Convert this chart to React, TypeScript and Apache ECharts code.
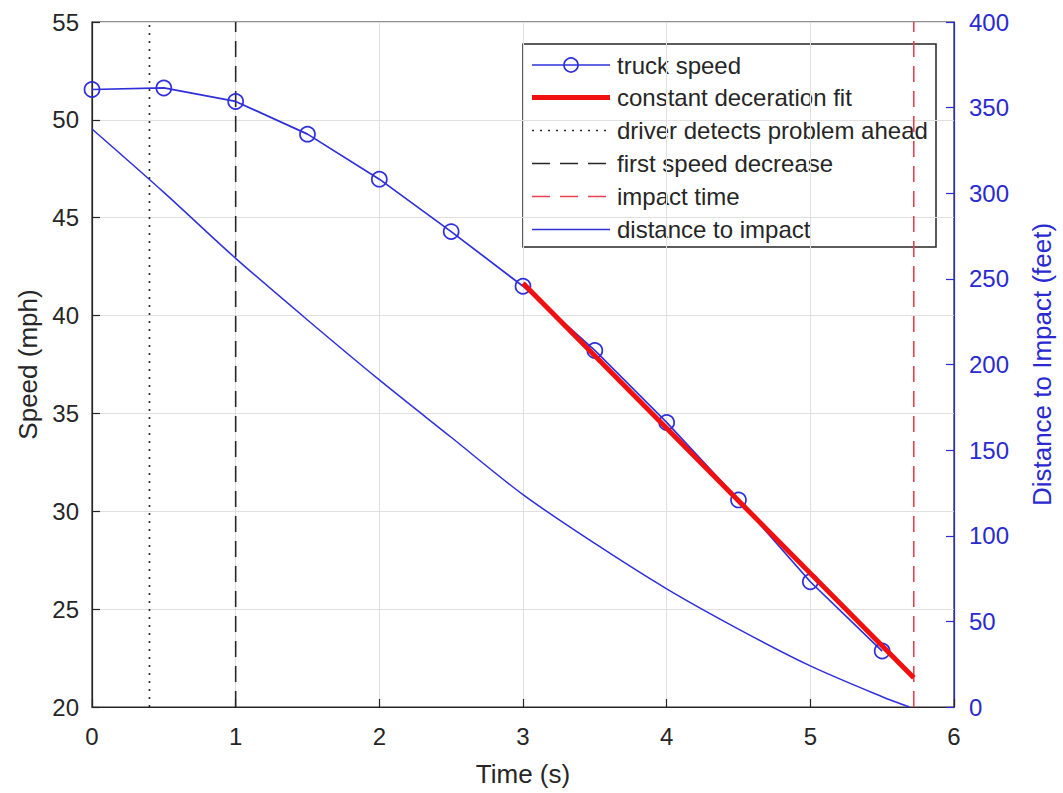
import React, { useEffect, useRef } from "react";
import * as echarts from "echarts";

// ---- data ----
const speedTimes = [0, 0.5, 1, 1.5, 2, 2.5, 3, 3.5, 4, 4.5, 5, 5.5];
const truckSpeed = [51.55, 51.63, 50.94, 49.27, 46.97, 44.29, 41.5, 38.22, 34.54, 30.58, 26.4, 22.86];
const fitTimes = [3, 5.72];
const fitSpeed = [41.65, 21.5];
const detectTime = 0.4;
const firstDecreaseTime = 1;
const impactTime = 5.72;
const distTimes = [0, 0.5, 1, 1.5, 2, 2.5, 3, 3.5, 4, 4.5, 5, 5.5, 5.69];
const distance = [337.5, 300.5, 262, 226, 191, 157.5, 124, 95.5, 69, 45.5, 24, 6, 0];
const speedAxis = { min: 20, max: 55, interval: 5 };
const timeAxis = { min: 0, max: 6, interval: 1 };
const distAxis = { min: 0, max: 400, interval: 50 };
const legendLabels = [
  "truck speed",
  "constant deceration fit",
  "driver detects problem ahead",
  "first speed decrease",
  "impact time",
  "distance to impact",
];

const FONT = "'Liberation Sans', Arial, Helvetica, sans-serif";
const DARK = "#262626";
const BLUE = "#2f2fdc";
const AXBLUE = "#2a2ad0";
const RED = "#f01010";
const DASHRED = "#e8404e";

export default function App() {
  const ref = useRef<HTMLDivElement>(null);
  useEffect(() => {
    if (!ref.current) return;
    const chart = echarts.init(ref.current, undefined, { renderer: "svg" });

    const vline = (t: number) => [
      [t, speedAxis.min],
      [t, speedAxis.max],
    ];

    // legend drawn with graphic
    const lx0 = 532, lx1 = 610, tx = 617;
    const rowY = [65, 97.5, 130.5, 163.5, 196.5, 229.5];
    const samples: any[] = [
      { type: "line", shape: { x1: lx0, y1: rowY[0], x2: lx1, y2: rowY[0] }, style: { stroke: BLUE, lineWidth: 1.7 } },
      { type: "circle", shape: { cx: (lx0 + lx1) / 2, cy: rowY[0], r: 7 }, style: { stroke: BLUE, fill: "none", lineWidth: 1.7 } },
      { type: "line", shape: { x1: lx0, y1: rowY[1], x2: lx1, y2: rowY[1] }, style: { stroke: RED, lineWidth: 5 } },
      { type: "line", shape: { x1: lx0, y1: rowY[2], x2: lx1, y2: rowY[2] }, style: { stroke: DARK, lineWidth: 1.6, lineDash: [2, 6] } },
      { type: "line", shape: { x1: lx0, y1: rowY[3], x2: lx1, y2: rowY[3] }, style: { stroke: DARK, lineWidth: 1.6, lineDash: [18, 10] } },
      { type: "line", shape: { x1: lx0, y1: rowY[4], x2: lx1, y2: rowY[4] }, style: { stroke: DASHRED, lineWidth: 1.6, lineDash: [18, 10] } },
      { type: "line", shape: { x1: lx0, y1: rowY[5], x2: lx1, y2: rowY[5] }, style: { stroke: BLUE, lineWidth: 1.5 } },
    ];
    const texts = legendLabels.map((s, i) => ({
      type: "text",
      x: tx,
      y: rowY[i],
      style: { text: s, fill: DARK, font: `24px ${FONT}`, textVerticalAlign: "middle", textAlign: "left" },
    }));

    chart.setOption({
      animation: false,
      backgroundColor: "#ffffff",
      textStyle: { fontFamily: FONT },
      grid: {
        left: 92,
        right: 107,
        top: 22,
        bottom: 86,
        show: true,
        borderColor: DARK,
        borderWidth: 1.2,
        backgroundColor: "transparent",
      },
      xAxis: {
        type: "value",
        ...timeAxis,
        name: "Time (s)",
        nameLocation: "middle",
        nameGap: 54,
        nameTextStyle: { fontSize: 26, color: DARK, fontFamily: FONT },
        axisLine: { show: true, lineStyle: { color: DARK, width: 1.2 } },
        axisTick: { show: true, inside: true, length: 8, lineStyle: { color: DARK, width: 1.2 } },
        axisLabel: { fontSize: 24, color: DARK, margin: 17, fontFamily: FONT },
        splitLine: { show: true, lineStyle: { color: "#e0e0e0", width: 1 } },
      },
      yAxis: [
        {
          type: "value",
          ...speedAxis,
          position: "left",
          name: "Speed (mph)",
          nameLocation: "middle",
          nameGap: 48,
          nameTextStyle: { fontSize: 26, color: DARK, fontFamily: FONT },
          axisLine: { show: true, onZero: false, lineStyle: { color: DARK, width: 1.2 } },
          axisTick: { show: true, inside: true, length: 8, lineStyle: { color: DARK, width: 1.2 } },
          axisLabel: { fontSize: 24, color: DARK, margin: 13, fontFamily: FONT },
          splitLine: { show: true, lineStyle: { color: "#e0e0e0", width: 1 } },
        },
        {
          type: "value",
          ...distAxis,
          position: "right",
          name: "Distance to Impact (feet)",
          nameLocation: "middle",
          nameGap: 75,
          nameTextStyle: { fontSize: 26, color: AXBLUE, fontFamily: FONT },
          axisLine: { show: true, onZero: false, lineStyle: { color: AXBLUE, width: 1.2 } },
          axisTick: { show: true, inside: true, length: 8, lineStyle: { color: AXBLUE, width: 1.2 } },
          axisLabel: { fontSize: 24, color: AXBLUE, margin: 15, fontFamily: FONT },
          splitLine: { show: false },
        },
      ],
      series: [
        {
          name: legendLabels[0],
          type: "line",
          data: speedTimes.map((t, i) => [t, truckSpeed[i]]),
          symbol: "circle",
          symbolSize: 15,
          itemStyle: { color: "transparent", borderColor: BLUE, borderWidth: 1.7 },
          lineStyle: { color: BLUE, width: 1.7 },
          z: 3,
        },
        {
          name: legendLabels[1],
          type: "line",
          data: fitTimes.map((t, i) => [t, fitSpeed[i]]),
          symbol: "none",
          lineStyle: { color: RED, width: 5 },
          z: 4,
        },
        {
          name: legendLabels[2],
          type: "line",
          data: vline(detectTime),
          symbol: "none",
          lineStyle: { color: DARK, width: 1.6, type: [2, 6] },
          z: 2,
        },
        {
          name: legendLabels[3],
          type: "line",
          data: vline(firstDecreaseTime),
          symbol: "none",
          lineStyle: { color: DARK, width: 1.6, type: [16, 9] },
          z: 2,
        },
        {
          name: legendLabels[4],
          type: "line",
          data: vline(impactTime),
          symbol: "none",
          lineStyle: { color: DASHRED, width: 1.6, type: [16, 9] },
          z: 2,
        },
        {
          name: legendLabels[5],
          type: "line",
          yAxisIndex: 1,
          data: distTimes.map((t, i) => [t, distance[i]]),
          symbol: "none",
          smooth: 0.3,
          lineStyle: { color: BLUE, width: 1.5 },
          z: 3,
        },
      ],
      graphic: [
        {
          type: "group",
          z: 100,
          children: [
            {
              type: "rect",
              shape: { x: 523, y: 44, width: 413, height: 203 },
              style: { fill: "#ffffff", stroke: DARK, lineWidth: 1.5 },
            },
            ...samples,
            ...texts,
          ],
        },
      ],
    });
    return () => chart.dispose();
  }, []);
  return (
    <div
      ref={ref}
      style={{ position: "absolute", left: 0, top: 0, width: 1063, height: 793, background: "#fff" }}
    />
  );
}
